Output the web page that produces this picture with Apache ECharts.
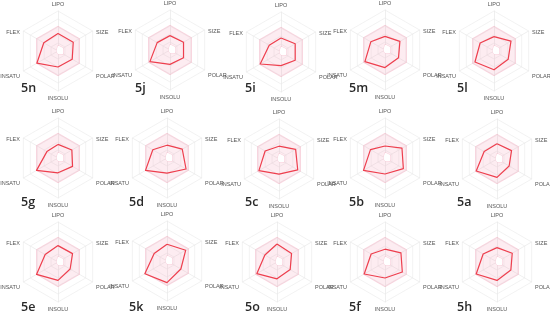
<!DOCTYPE html>
<html><head><meta charset="utf-8">
<script src="https://cdn.jsdelivr.net/npm/echarts@6/dist/echarts.min.js"></script>
<style>html,body{margin:0;padding:0;background:#fff}#c{width:550px;height:320px}</style>
</head><body><div id="c"></div>
<script>
// compounds, in grid order (row by row)
const compounds = ['5n','5j','5i','5m','5l','5g','5d','5c','5b','5a','5e','5k','5o','5f','5h'];
// axis names (clockwise from top, as drawn)
const axes = ['LIPO','SIZE','POLAR','INSOLU','INSATU','FLEX'];
// property values per compound on a 0-10 radial scale
const lipo   = [4.4,3.6,3.5,3.4,3.6, 3.4,3.2,3.2,3.0,3.8, 4.1,4.2,4.5,3.2,3.6];
const size   = [4.4,3.9,4.1,4.3,4.9, 4.0,4.4,4.8,4.9,4.2, 4.2,5.4,4.2,4.6,4.4];
const polar  = [4.1,3.9,4.1,3.9,4.1, 4.2,5.5,5.4,5.3,3.5, 3.5,4.0,3.8,5.0,4.0];
const insolu = [4.0,3.6,3.4,4.4,4.7, 3.7,3.8,3.8,4.0,4.6, 4.6,5.4,4.2,4.0,4.6];
const insatu = [6.1,5.8,6.0,5.8,5.5, 6.2,6.2,5.8,6.2,6.0, 6.2,6.4,5.8,6.0,6.0];
const flex   = [4.1,3.7,3.4,4.1,4.0, 3.2,4.1,4.0,4.2,3.7, 3.7,3.7,3.5,4.0,4.0];
// optimal (pink) band: outer and inner limits
const optOuter = [6.2,6.2,6.2,6.2,6.2,6.2];
const optInner = [1.4,1.5,1.5,0.8,0.4,0.4];

const centers = [[58,51],[170,50],[281,52],[385,50],[494,51],
                 [58,158],[167,158],[279,159],[385,158],[497,159],
                 [58,262],[167,261],[277,262],[385,262],[497,262]];
const titlePos = [[21,85],[135,85],[245,85],[349,85],[457,85],
                  [21,199],[129,199],[245,199],[349,199],[457,199],
                  [21,304],[129,304],[245,304],[349,304],[457,304]];

// ECharts radar goes counter-clockwise: reorder to LIPO, FLEX, INSATU, INSOLU, POLAR, SIZE
const order = [0,5,4,3,2,1];
const reorder = arr => order.map(k => arr[k]);

const radars = [], series = [], titles = [];
compounds.forEach((name, i) => {
  radars.push({
    center: centers[i], radius: 40, startAngle: 90, splitNumber: 5,
    indicator: reorder(axes).map(a => ({name: a, min: 0, max: 10})),
    axisName: {color: '#555', fontSize: 5.5, fontFamily: 'Liberation Sans',
      formatter: n => (n === 'LIPO' || n === 'INSOLU') ? '{v|' + n + '}' : '{s|' + n + '}',
      rich: {v: {fontSize: 5.5, color: '#555', padding: [0, 0, 0, 0]},
             s: {fontSize: 5.5, color: '#555', padding: [6, 0, 0, 0]}}},
    nameGap: 4,
    splitLine: {lineStyle: {color: '#ececec', width: 0.7}},
    axisLine: {lineStyle: {color: '#e8e8e8', width: 0.7}},
    splitArea: {show: false}
  });
  const vals = [lipo[i], size[i], polar[i], insolu[i], insatu[i], flex[i]];
  series.push({
    type: 'radar', radarIndex: i, symbol: 'none', silent: true,
    data: [
      {value: reorder(optOuter), lineStyle: {color: 'rgba(236,130,160,0.35)', width: 0.8},
       areaStyle: {color: 'rgba(242,140,170,0.17)', opacity: 1}},
      {value: reorder(optInner), lineStyle: {color: 'rgba(236,130,160,0.35)', width: 0.8},
       areaStyle: {color: '#ffffff', opacity: 1}},
      {value: reorder(vals), lineStyle: {color: '#ee3f4e', width: 1.2}}
    ]
  });
  titles.push({text: name, left: titlePos[i][0], top: titlePos[i][1] - 3, padding: 0,
    textStyle: {fontSize: 12.5, fontWeight: 600, color: '#2a2a2a', fontFamily: 'Open Sans'}});
});

const chart = echarts.init(document.getElementById('c'), null, {renderer: 'canvas'});
chart.setOption({animation: false, title: titles, radar: radars, series: series});
</script></body></html>
